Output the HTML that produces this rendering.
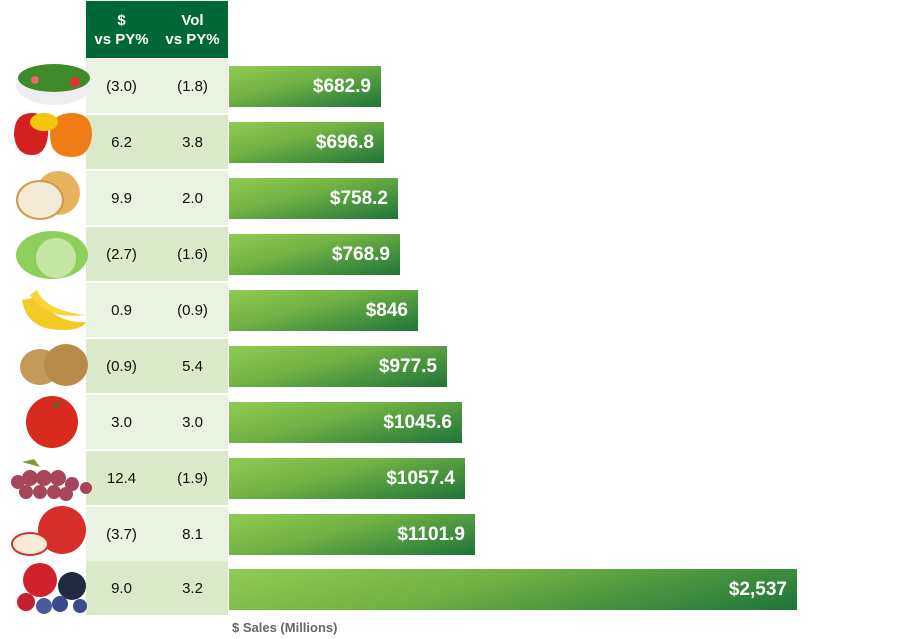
<!DOCTYPE html>
<html><head><meta charset="utf-8"><style>
body{margin:0;background:#fff;width:900px;height:639px;position:relative;overflow:hidden;font-family:"Liberation Sans",Arial,sans-serif}
.hdr{position:absolute;left:86px;top:1px;width:142px;height:57px;background:#006837;color:#fff;font-weight:bold;font-size:15px}
.hdr div{position:absolute;top:10px;width:71px;text-align:center;line-height:19px}
.row{position:absolute;left:86px;width:142px;height:54px;font-size:15px;color:#111}
.row span{position:absolute;top:19px;width:71px;text-align:center}
.bar{position:absolute;left:229px;height:41px;background:linear-gradient(165deg,#90cb54 0%,#72b345 40%,#1f7438 100%);color:#fff;font-weight:bold;font-size:19px;text-align:right;box-sizing:border-box;padding-right:10px;line-height:41px}
.lbl{position:absolute;left:232px;top:620px;font-size:13px;font-weight:bold;color:#666}
svg{position:absolute;left:0;top:0}
</style></head><body>
<div class="hdr"><div style="left:0">$<br>vs PY%</div><div style="left:71px">Vol<br>vs PY%</div></div>

<div class="row" style="top:59px;background:#eaf2e1"><span style="left:0">(3.0)</span><span style="left:71px">(1.8)</span></div>
<div class="row" style="top:115px;background:#d9e9c9"><span style="left:0">6.2</span><span style="left:71px">3.8</span></div>
<div class="row" style="top:171px;background:#eaf2e1"><span style="left:0">9.9</span><span style="left:71px">2.0</span></div>
<div class="row" style="top:227px;background:#d9e9c9"><span style="left:0">(2.7)</span><span style="left:71px">(1.6)</span></div>
<div class="row" style="top:283px;background:#eaf2e1"><span style="left:0">0.9</span><span style="left:71px">(0.9)</span></div>
<div class="row" style="top:339px;background:#d9e9c9"><span style="left:0">(0.9)</span><span style="left:71px">5.4</span></div>
<div class="row" style="top:395px;background:#eaf2e1"><span style="left:0">3.0</span><span style="left:71px">3.0</span></div>
<div class="row" style="top:451px;background:#d9e9c9"><span style="left:0">12.4</span><span style="left:71px">(1.9)</span></div>
<div class="row" style="top:507px;background:#eaf2e1"><span style="left:0">(3.7)</span><span style="left:71px">8.1</span></div>
<div class="row" style="top:561px;background:#d9e9c9"><span style="left:0">9.0</span><span style="left:71px">3.2</span></div>

<div class="bar" style="top:66px;width:152px">$682.9</div>
<div class="bar" style="top:122px;width:155px">$696.8</div>
<div class="bar" style="top:178px;width:169px">$758.2</div>
<div class="bar" style="top:234px;width:171px">$768.9</div>
<div class="bar" style="top:290px;width:189px">$846</div>
<div class="bar" style="top:346px;width:218px">$977.5</div>
<div class="bar" style="top:402px;width:233px">$1045.6</div>
<div class="bar" style="top:458px;width:236px">$1057.4</div>
<div class="bar" style="top:514px;width:246px">$1101.9</div>
<div class="bar" style="top:569px;width:568px">$2,537</div>
<div class="lbl">$ Sales (Millions)</div>

<svg width="100" height="639">
<ellipse cx="54" cy="85" rx="38" ry="20" fill="#eee"/><ellipse cx="54" cy="78" rx="36" ry="14" fill="#3f8a2a"/><circle cx="75" cy="82" r="5" fill="#d33"/><circle cx="35" cy="80" r="4" fill="#e66"/>
<path d="M14 135 q0-22 18-22 q18 0 16 22 q-2 20-16 20 q-16 0-18-20z" fill="#d42020"/><path d="M50 135 q0-22 22-22 q20 0 20 22 q-2 22-20 22 q-22 0-22-22z" fill="#ef7d16"/><ellipse cx="44" cy="122" rx="14" ry="9" fill="#f3c60c"/>
<circle cx="58" cy="193" r="22" fill="#e9b25e"/><ellipse cx="40" cy="200" rx="23" ry="19" fill="#f3ead6" stroke="#cc9a4c" stroke-width="2"/>
<ellipse cx="52" cy="255" rx="36" ry="24" fill="#8ed05e"/><ellipse cx="56" cy="258" rx="20" ry="20" fill="#c5e6a4"/>
<path d="M22 300 q5 30 40 30 q20 0 24-8 q-30 2-48-25z" fill="#f4c923"/><path d="M30 295 q15 25 55 20 q-40-5-48-25z" fill="#f7d43a"/>
<ellipse cx="40" cy="367" rx="20" ry="18" fill="#c49a5b"/><ellipse cx="66" cy="365" rx="22" ry="21" fill="#b88b4c"/>
<circle cx="52" cy="422" r="26" fill="#d82a1e"/><path d="M42 400 l10 6 l10-6 l-6 8z" fill="#3a7a2a"/>
<g fill="#a8455a"><circle cx="18" cy="482" r="7"/><circle cx="30" cy="478" r="8"/><circle cx="44" cy="478" r="8"/><circle cx="58" cy="478" r="8"/><circle cx="72" cy="484" r="7"/><circle cx="86" cy="488" r="6"/><circle cx="26" cy="492" r="7"/><circle cx="40" cy="492" r="7"/><circle cx="54" cy="492" r="7"/><circle cx="66" cy="494" r="7"/></g><path d="M22 462 l18 5 l-6-8z" fill="#7a9a40"/>
<circle cx="62" cy="530" r="24" fill="#d82e2a"/><ellipse cx="30" cy="544" rx="18" ry="11" fill="#f4ecd4" stroke="#c33" stroke-width="2"/>
<circle cx="40" cy="580" r="17" fill="#d1202a"/><circle cx="72" cy="586" r="14" fill="#222a40"/><circle cx="26" cy="602" r="9" fill="#c42032"/><circle cx="60" cy="604" r="8" fill="#3a4a8a"/><circle cx="80" cy="606" r="7" fill="#3a4a8a"/><circle cx="44" cy="606" r="8" fill="#4a5a9a"/>
</svg>
</body></html>
